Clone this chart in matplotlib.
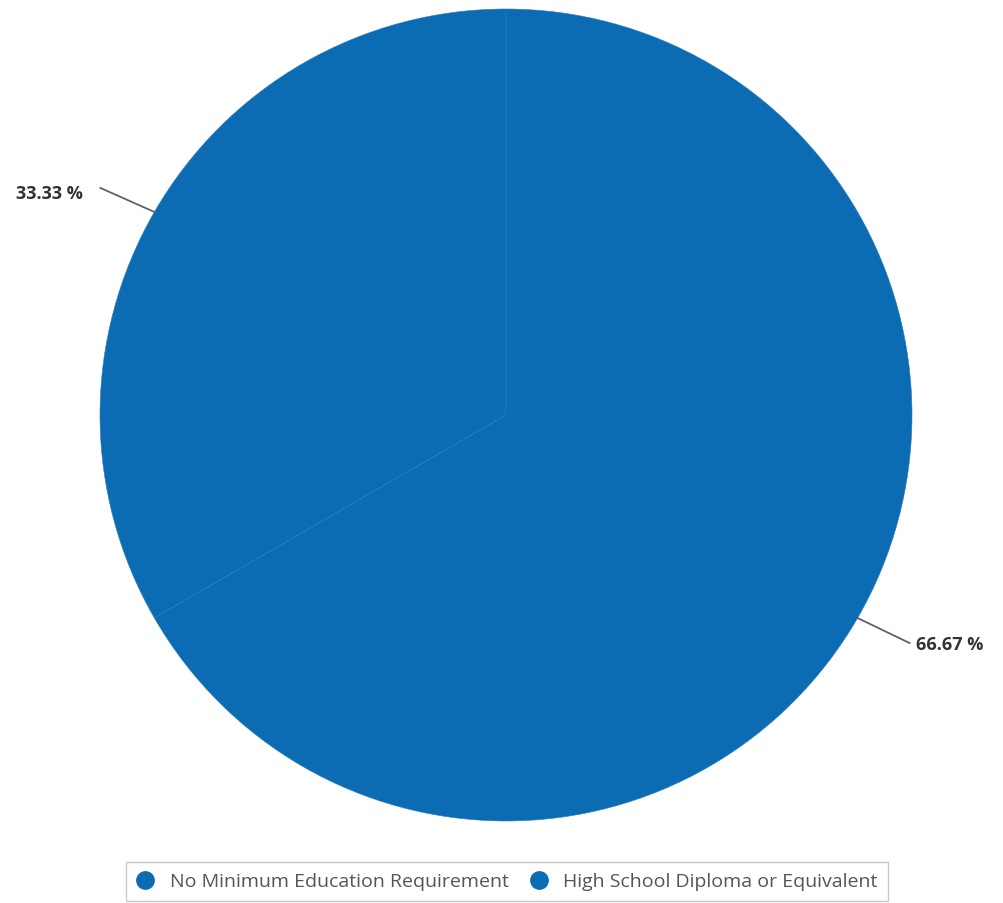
import numpy as np
import matplotlib
matplotlib.use("Agg")
import matplotlib.pyplot as plt
from matplotlib.lines import Line2D

categories = ["No Minimum Education Requirement", "High School Diploma or Equivalent"]
shares = [33.33, 66.67]
labels = ["33.33 %", "66.67 %"]
colors = ["#0b6cb4", "#0b6cb4"]

plt.rcParams['font.family'] = ['Open Sans', 'DejaVu Sans']

fig = plt.figure(figsize=(10.04, 9.04), dpi=100)
ax = fig.add_axes([0, 0, 1, 1])

cx, cy, r = 506, 488, 406
wedges, _ = ax.pie(shares, colors=colors, startangle=90, counterclock=True,
                   center=(cx, cy), radius=r, frame=True,
                   wedgeprops=dict(edgecolor='#2a7bbd', linewidth=0.4))
ax.set_xlim(0, 1004)
ax.set_ylim(0, 904)
ax.set_aspect('equal')
ax.axis('off')

# leader lines + labels
for w, lab in zip(wedges, labels):
    mid = np.deg2rad((w.theta1 + w.theta2) / 2)
    x0, y0 = cx + r * np.cos(mid), cy + r * np.sin(mid)
    if np.cos(mid) < 0:
        x1, y1 = x0 - 54, y0 + 24
        ax.plot([x0, x1], [y0, y1], color='#5a6470', lw=1.3)
        ax.text(x1 - 18, y1 - 5, lab, ha='right', va='center', fontsize=13,
                fontweight='bold', color='#333333')
    else:
        x1, y1 = x0 + 52, y0 - 25
        ax.plot([x0, x1], [y0, y1], color='#5a6470', lw=1.3)
        ax.text(x1 + 6, y1 - 1, lab, ha='left', va='center', fontsize=13,
                fontweight='bold', color='#333333')

handles = [Line2D([], [], marker='o', ls='', markersize=12.5, color=c) for c in colors]
leg = fig.legend(handles, categories, loc='lower center', ncol=2,
                 bbox_to_anchor=(0.505, 0.002), fontsize=14, frameon=True,
                 fancybox=False, edgecolor='#bbbbbb', handlelength=0.9,
                 handletextpad=0.8, columnspacing=1.1, borderpad=0.55,
                 borderaxespad=0.0)
for t in leg.get_texts():
    t.set_color('#555555')

fig.savefig("out.png", dpi=100, facecolor='white')
